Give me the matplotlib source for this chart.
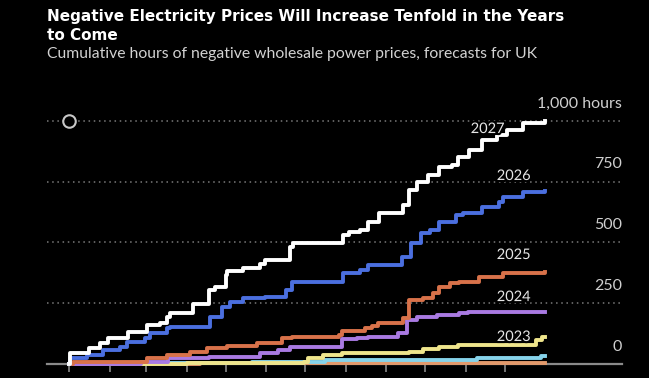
import matplotlib.pyplot as plt
import matplotlib.patheffects as pe

# Cumulative hours of negative wholesale power prices (UK).
# Each series is a list of (day of year, cumulative hours) step knots.
days_2027 = [0, 1, 15, 24, 30, 45, 60, 70, 75, 77, 95, 107, 112, 120, 121, 133, 146, 150,
             169, 172, 210, 215, 223, 229, 238, 256, 261, 267, 275, 284, 294, 298, 307,
             317, 328, 336, 348, 365]
hours_2027 = [0, 45, 66, 86, 107, 132, 160, 170, 193, 209, 247, 304, 317, 366, 382, 395, 412,
              428, 481, 497, 530, 543, 551, 582, 621, 654, 716, 748, 777, 810, 818, 851,
              880, 921, 942, 962, 991, 1000]

days_2026 = [0, 1, 14, 26, 39, 44, 58, 62, 75, 77, 108, 117, 123, 133, 150, 166, 171, 210,
             223, 229, 255, 262, 270, 277, 284, 297, 302, 317, 330, 333, 348, 365]
hours_2026 = [0, 25, 37, 58, 70, 90, 107, 127, 148, 152, 193, 234, 255, 271, 275, 304, 337,
              374, 386, 407, 440, 497, 539, 551, 584, 613, 621, 646, 666, 687, 707, 711]

days_2025 = [0, 3, 60, 75, 93, 106, 121, 144, 163, 171, 207, 209, 227, 232, 237, 256, 261,
             271, 279, 284, 292, 299, 314, 333, 365]
hours_2025 = [0, 8, 25, 37, 49, 66, 75, 86, 107, 111, 119, 136, 148, 156, 169, 189, 263,
              271, 292, 317, 333, 337, 358, 374, 378]

days_2024 = [0, 55, 76, 107, 146, 160, 169, 209, 221, 229, 252, 259, 267, 282, 299, 306, 365]
hours_2024 = [0, 8, 25, 29, 45, 58, 70, 103, 107, 111, 127, 181, 193, 201, 209, 214, 214]

days_2023 = [0, 90, 180, 183, 195, 209, 261, 271, 284, 298, 358, 363, 365]
hours_2023 = [0, 4, 8, 25, 37, 45, 49, 62, 70, 78, 99, 111, 111]

days_2022 = [0, 60, 140, 196, 313, 362, 365]
hours_2022 = [0, 4, 8, 16, 25, 33, 33]

days_2021 = [0, 100, 250, 365]
hours_2021 = [0, 2, 4, 4]

series = [
    ('2021', days_2021, hours_2021, '#e39a6c'),
    ('2022', days_2022, hours_2022, '#86d3ea'),
    ('2023', days_2023, hours_2023, '#efe58c'),
    ('2024', days_2024, hours_2024, '#a97ae2'),
    ('2025', days_2025, hours_2025, '#d8724a'),
    ('2026', days_2026, hours_2026, '#4b6fdf'),
    ('2027', days_2027, hours_2027, '#ffffff'),
]

# where the year names sit (day, hours)
year_labels = {'2027': (321, 966), '2026': (341, 773), '2025': (341, 448),
               '2024': (341, 275), '2023': (341, 111)}

month_starts = [0, 31, 59, 90, 120, 151, 181, 212, 243, 273, 304, 334]
grid_levels = [250, 500, 750, 1000]
level_labels = ['0', '250', '500', '750', '1,000 hours']

plt.rcParams['font.family'] = ['Lato', 'DejaVu Sans']

fig = plt.figure(figsize=(6.49, 3.78), dpi=100, facecolor='black')
ax = fig.add_axes([47 / 649, 1 - 372 / 378, (622 - 47) / 649, (372 - 95) / 378])
ax.set_facecolor('black')
ax.set_xlim(-17, 424)
ax.set_ylim(-33, 1106)

for v in grid_levels:
    ax.axhline(v, color='#7a7a7a', ls=(0, (1, 2.4)), lw=1.1, zorder=1)

for name, d, h, c in series:
    ax.step(d, h, where='post', color=c, lw=2.8, zorder=3)

# hollow marker at the top left
ax.plot([0], [1000], 'o', mfc='black', mec='#c8c8c8', ms=9, mew=1.5, zorder=4)

for name, (x, y) in year_labels.items():
    ax.text(x, y, name, color='#e6e6e6', fontsize=10.5, ha='center', va='center', zorder=5,
            path_effects=[pe.withStroke(linewidth=3, foreground='black')])

for v, lab in zip([0] + grid_levels, level_labels):
    ax.annotate(lab, xy=(1, v), xycoords=('axes fraction', 'data'), xytext=(0, 12.5),
                textcoords='offset points', ha='right', va='center',
                color='#cfcfcf', fontsize=11.5)

for s in ['top', 'right', 'left']:
    ax.spines[s].set_visible(False)
ax.spines['bottom'].set_position(('data', 0))
ax.spines['bottom'].set_color('#8a8a8a')
ax.spines['bottom'].set_linewidth(1.6)
ax.spines['bottom'].set_zorder(2)
ax.set_xticks(month_starts)
ax.tick_params(axis='x', direction='out', length=5.5, width=1.2, color='#8a8a8a',
               labelbottom=False)
ax.set_yticks([])

fig.text(47 / 649, 1 - 17 / 378, 'Negative Electricity Prices Will Increase Tenfold in the Years',
         color='white', fontsize=11, fontweight='bold', va='center', family='DejaVu Sans')
fig.text(47 / 649, 1 - 36 / 378, 'to Come', color='white', fontsize=11, fontweight='bold',
         va='center', family='DejaVu Sans')
fig.text(47 / 649, 1 - 54 / 378,
         'Cumulative hours of negative wholesale power prices, forecasts for UK',
         color='#d2d2d2', fontsize=11.3, va='center')

fig.savefig('out.png', dpi=100, facecolor='black')
